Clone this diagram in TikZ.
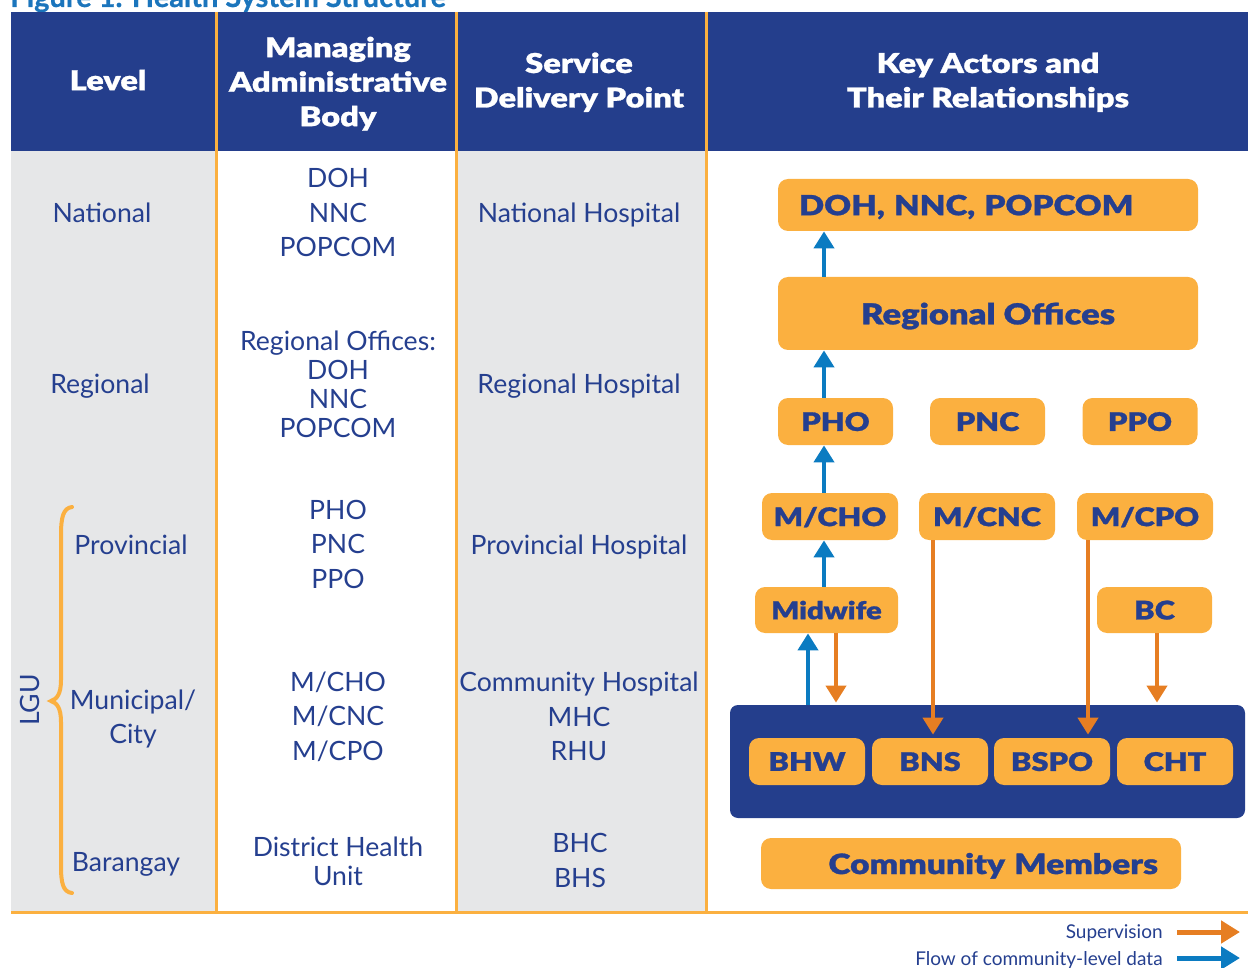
\documentclass[tikz,border=0pt]{standalone}
\usepackage{fontspec}
\setmainfont{Lato}
\newfontfamily\hvy{Lato Black}[FakeStretch=1.2,FakeBold=1]
\newfontfamily\ttl{Lato}[FakeBold=0.6]
\usetikzlibrary{arrows.meta,calc}
\definecolor{navy}{HTML}{243E8C}
\definecolor{txtblue}{HTML}{253F8F}
\definecolor{boxor}{HTML}{FBB040}
\definecolor{greycol}{HTML}{E6E7E8}
\definecolor{arrblue}{HTML}{0B7BC1}
\definecolor{arror}{HTML}{E67E22}
\definecolor{titleblue}{HTML}{1B75BC}
\begin{document}
\begin{tikzpicture}[x=0.5pt,y=-0.5pt,
 bodytxt/.style={text=txtblue, font=\fontsize{13.3}{17.25}\selectfont, align=center, text depth=0pt, inner sep=0pt},
 headtxt/.style={text=white, font=\hvy\fontsize{13.6}{17.25}\selectfont, align=center, text depth=0pt, inner sep=0pt},
 actor/.style={fill=boxor, rounded corners=5pt, text=txtblue, font=\hvy\fontsize{12.8}{16}\selectfont, text depth=0pt, inner sep=0pt},
 bluearr/.style={draw=arrblue, line width=2pt, -{Triangle[length=8.5pt,width=10pt]}},
 orarr/.style={draw=arror, line width=2pt, -{Triangle[length=8.5pt,width=10pt]}},
 sepline/.style={draw=boxor, line width=1.5pt},
]
\useasboundingbox (0,0) rectangle (1248,968);
% title (cut by page edge)
\node[anchor=base west, inner sep=0pt, text=titleblue, font=\ttl\bfseries\fontsize{14.5}{16}\selectfont] (title) at (10,7) {Figure 1. Health System Structure};
% backgrounds
\fill[navy] (11,12) rectangle (1248,151);
\fill[greycol] (11,151) rectangle (216,912);
\fill[greycol] (456,151) rectangle (706,912);
\draw[sepline] (216,12) -- (216,912);
\draw[sepline] (456,12) -- (456,912);
\draw[sepline] (706,12) -- (706,912);
\draw[sepline] (11,912) -- (1248,912);
% header
\node[headtxt] (h1) at (108,80) {Level};
\node[headtxt] (h2) at (338,81.5) {Managing\\Administrative\\Body};
\node[headtxt] (h3) at (579,80) {Service\\Delivery Point};
\node[headtxt] (h4) at (988,80) {Key Actors and\\Their Relationships};
% column 1
\node[bodytxt] (l1) at (102,213) {National};
\node[bodytxt] (l2) at (100,384) {Regional};
\node[bodytxt] (l3) at (131,545) {Provincial};
\node[bodytxt] (l4) at (133,716.5) {Municipal/\\City};
\node[bodytxt] (l5) at (126,862) {Barangay};
\node[bodytxt, rotate=90] (lgu) at (30,700) {LGU};
\draw[draw=boxor, line width=2pt, line cap=round]
  (72,507) .. controls (63,508) and (61,518) .. (61,535) -- (61,680)
  .. controls (61,694) and (57,699) .. (51,701)
  .. controls (57,703) and (61,708) .. (61,722) -- (61,866)
  .. controls (61,883) and (63,892) .. (72,893);
% column 2
\node[bodytxt] (m1) at (338,212.5) {DOH\\NNC\\POPCOM};
\node[bodytxt, font=\fontsize{13.3}{14.5}\selectfont] (m2) at (338,384) {Regional Offices:\\DOH\\NNC\\POPCOM};
\node[bodytxt] (m3) at (338,544) {PHO\\PNC\\PPO};
\node[bodytxt] (m4) at (338,716) {M/CHO\\M/CNC\\M/CPO};
\node[bodytxt, font=\fontsize{13.3}{14.5}\selectfont] (m5) at (338,861.5) {District Health\\Unit};
% column 3
\node[bodytxt] (s1) at (579,213) {National Hospital};
\node[bodytxt] (s2) at (579,384) {Regional Hospital};
\node[bodytxt] (s3) at (579,545) {Provincial Hospital};
\node[bodytxt] (s4) at (579,716.5) {Community Hospital\\MHC\\RHU};
\node[bodytxt] (s5) at (580,860.5) {BHC\\BHS};
% column 4: actors
\node[actor, minimum width=210pt, minimum height=26pt, text width=189pt, align=left, font=\hvy\fontsize{13.8}{16}\selectfont] (doh) at (988,205) {DOH, NNC, POPCOM};
\node[actor, minimum width=210pt, minimum height=36.5pt, font=\hvy\fontsize{14.4}{16}\selectfont] (ro) at (988,313.5) {Regional Offices};
\node[actor, minimum width=57.5pt, minimum height=23.5pt] (pho) at (835.5,421.5) {PHO};
\node[actor, minimum width=57.5pt, minimum height=23.5pt] (pnc) at (987.5,421.5) {PNC};
\node[actor, minimum width=57.5pt, minimum height=23.5pt] (ppo) at (1140,421.5) {PPO};
\node[actor, minimum width=68pt, minimum height=23.5pt] (mcho) at (830,516.5) {M/CHO};
\node[actor, minimum width=68pt, minimum height=23.5pt] (mcnc) at (987,516.5) {M/CNC};
\node[actor, minimum width=68pt, minimum height=23.5pt] (mcpo) at (1145,516.5) {M/CPO};
\node[actor, minimum width=71.5pt, minimum height=23pt, font=\hvy\fontsize{12.2}{16}\selectfont] (mid) at (826.5,610) {Midwife};
\node[actor, minimum width=57.5pt, minimum height=23pt] (bc) at (1154.5,610) {BC};
\node[fill=navy, rounded corners=4pt, minimum width=257.5pt, minimum height=56.5pt, inner sep=0pt] (bar) at (987.5,761.5) {};
\node[actor, minimum width=58pt, minimum height=23.5pt] (bhw) at (807,761.5) {BHW};
\node[actor, minimum width=58pt, minimum height=23.5pt] (bns) at (930,761.5) {BNS};
\node[actor, minimum width=58pt, minimum height=23.5pt] (bspo) at (1052,761.5) {BSPO};
\node[actor, minimum width=58pt, minimum height=23.5pt] (cht) at (1175,761.5) {CHT};
\node[actor, minimum width=210pt, minimum height=25.5pt, text width=187pt, align=right, font=\hvy\fontsize{14}{16}\selectfont] (cm) at (971,863.5) {Community Members};
% connector x positions
\coordinate (bx) at (824,0);
\coordinate (bx2) at (808,0);
\coordinate (ox1) at (836,0);
\coordinate (ox2) at (933,0);
\coordinate (ox3) at (1088,0);
\coordinate (ox4) at (1157,0);
% data flow (blue)
\draw[bluearr] (bx |- ro.north) -- (bx |- doh.south);
\draw[bluearr] (bx |- pho.north) -- (bx |- ro.south);
\draw[bluearr] (bx |- mcho.north) -- (bx |- pho.south);
\draw[bluearr] (bx |- mid.north) -- (bx |- mcho.south);
\draw[bluearr] (bx2 |- bar.north) -- (bx2 |- mid.south);
% supervision (orange)
\draw[orarr] (ox1 |- mid.south) -- ([yshift=1pt]ox1 |- bar.north);
\draw[orarr] (ox2 |- mcnc.south) -- ([yshift=1.5pt]ox2 |- bns.north);
\draw[orarr] (ox3 |- mcpo.south) -- ([yshift=1.5pt]ox3 |- bspo.north);
\draw[orarr] (ox4 |- bc.south) -- ([yshift=1pt]ox4 |- bar.north);
% legend
\node[bodytxt, anchor=east, font=\fontsize{9.5}{12}\selectfont] (lsup) at (1163,932) {Supervision};
\node[bodytxt, anchor=east, font=\fontsize{9.5}{12}\selectfont] (lflow) at (1163,958) {Flow of community-level data};
\coordinate (ls1) at (1177,932);
\coordinate (le1) at (1240,932);
\coordinate (ls2) at (1177,958);
\coordinate (le2) at (1240,958);
\draw[orarr, line width=2.5pt, -{Triangle[length=9.5pt,width=11pt]}] (ls1) -- (le1);
\draw[bluearr, line width=2.5pt, -{Triangle[length=9.5pt,width=11pt]}] (ls2) -- (le2);
\end{tikzpicture}
\end{document}
